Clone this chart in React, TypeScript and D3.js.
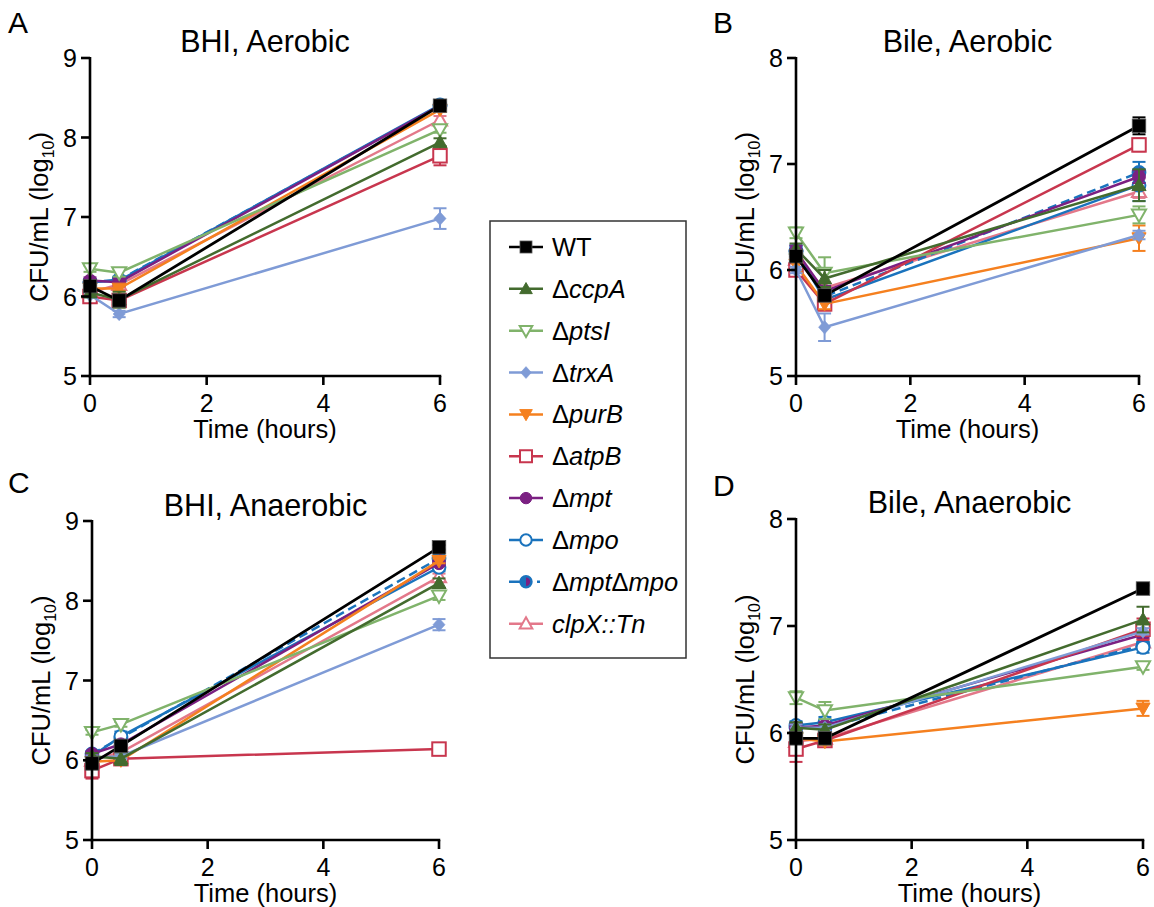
import React from "react";
import * as d3 from "d3";

const times = [0, 0.5, 6];
const strainKeys = ["WT", "ccpA", "ptsI", "trxA", "purB", "atpB", "mpt", "mpo", "mptmpo", "clpX"];
const yTicksBHI = [5, 6, 7, 8, 9];
const yTicksBile = [5, 6, 7, 8];
const xTicks = [0, 2, 4, 6];

// Panel A: BHI, Aerobic
const bhiAerobicMeans = [
  [6.13, 5.95, 8.4], [6.05, 5.96, 7.94], [6.35, 6.3, 8.1], [6.02, 5.78, 6.98], [6.1, 6.1, 8.35],
  [6.0, 5.95, 7.77], [6.2, 6.18, 8.4], [6.18, 6.2, 8.41], [6.18, 6.21, 8.4], [6.05, 6.15, 8.22],
];
const bhiAerobicSem = [
  [0.05, 0.05, 0.03], [0.05, 0.1, 0.05], [0.04, 0.05, 0.04], [0.03, 0.04, 0.13], [0.03, 0.03, 0.03],
  [0.03, 0.05, 0.12], [0.04, 0.05, 0.03], [0.04, 0.04, 0.03], [0.04, 0.04, 0.03], [0.03, 0.05, 0.05],
];
// Panel B: Bile, Aerobic
const bileAerobicMeans = [
  [6.13, 5.76, 7.36], [6.2, 5.92, 6.8], [6.35, 5.97, 6.52], [6.0, 5.46, 6.33], [6.05, 5.68, 6.3],
  [6.0, 5.68, 7.18], [6.18, 5.8, 6.88], [6.18, 5.72, 6.8], [6.18, 5.75, 6.92], [6.1, 5.83, 6.74],
];
const bileAerobicSem = [
  [0.05, 0.05, 0.08], [0.05, 0.08, 0.15], [0.05, 0.15, 0.08], [0.03, 0.13, 0.04], [0.05, 0.05, 0.12],
  [0.04, 0.06, 0.06], [0.05, 0.05, 0.06], [0.05, 0.06, 0.15], [0.05, 0.05, 0.1], [0.05, 0.05, 0.06],
];
// Panel C: BHI, Anaerobic
const bhiAnaerobicMeans = [
  [5.96, 6.18, 8.67], [6.05, 6.02, 8.22], [6.35, 6.45, 8.06], [6.03, 6.05, 7.7], [5.98, 6.0, 8.5],
  [5.87, 6.02, 6.14], [6.08, 6.2, 8.47], [6.05, 6.3, 8.42], [6.08, 6.28, 8.53], [6.0, 6.1, 8.3],
];
const bhiAnaerobicSem = [
  [0.04, 0.04, 0.03], [0.04, 0.08, 0.06], [0.03, 0.03, 0.05], [0.03, 0.03, 0.07], [0.03, 0.03, 0.03],
  [0.1, 0.03, 0.03], [0.03, 0.03, 0.03], [0.03, 0.06, 0.05], [0.03, 0.05, 0.03], [0.03, 0.03, 0.04],
];
// Panel D: Bile, Anaerobic
const bileAnaerobicMeans = [
  [5.95, 5.95, 7.35], [6.05, 6.03, 7.06], [6.33, 6.21, 6.62], [6.05, 6.05, 6.95], [5.95, 5.92, 6.23],
  [5.85, 5.93, 6.97], [6.05, 6.07, 6.92], [6.07, 6.1, 6.8], [6.05, 6.05, 6.82], [5.92, 5.95, 6.85],
];
const bileAnaerobicSem = [
  [0.03, 0.03, 0.03], [0.05, 0.05, 0.12], [0.06, 0.08, 0.03], [0.03, 0.03, 0.03], [0.03, 0.03, 0.07],
  [0.12, 0.03, 0.1], [0.04, 0.03, 0.03], [0.04, 0.05, 0.05], [0.03, 0.03, 0.03], [0.03, 0.03, 0.03],
];

type Style = { color: string; shape: string; hollow: boolean; dashed?: boolean; width: number };
const styles: Record<string, Style> = {
  WT: { color: "#000000", shape: "square", hollow: false, width: 2.8 },
  ccpA: { color: "#436b2e", shape: "triUp", hollow: false, width: 2.5 },
  ptsI: { color: "#80b36b", shape: "triDown", hollow: true, width: 2.5 },
  trxA: { color: "#7f9bd6", shape: "diamond", hollow: false, width: 2.5 },
  purB: { color: "#f5801f", shape: "triDown", hollow: false, width: 2.5 },
  atpB: { color: "#c8364e", shape: "square", hollow: true, width: 2.5 },
  mpt: { color: "#7b2082", shape: "circle", hollow: false, width: 2.5 },
  mpo: { color: "#1a73bd", shape: "circle", hollow: true, width: 2.5 },
  mptmpo: { color: "#1a73bd", shape: "half", hollow: false, dashed: true, width: 2.5 },
  clpX: { color: "#e3788a", shape: "triUp", hollow: true, width: 2.5 },
};

const FONT = "Liberation Sans, Arial, Helvetica, sans-serif";

function Marker({ x, y, st, s }: { x: number; y: number; st: Style; s: number }) {
  const fill = st.hollow ? "#ffffff" : st.color;
  const sw = st.hollow ? 2 : 1;
  const h = s / 2;
  switch (st.shape) {
    case "square":
      return <rect x={x - h} y={y - h} width={s} height={s} fill={fill} stroke={st.hollow ? st.color : "#555"} strokeWidth={st.hollow ? 2 : 0.8} />;
    case "triUp":
      return <path d={`M${x},${y - h * 1.05}L${x + h * 1.05},${y + h * 0.8}L${x - h * 1.05},${y + h * 0.8}Z`} fill={fill} stroke={st.color} strokeWidth={sw} strokeLinejoin="miter" />;
    case "triDown":
      return <path d={`M${x},${y + h * 1.05}L${x + h * 1.05},${y - h * 0.8}L${x - h * 1.05},${y - h * 0.8}Z`} fill={fill} stroke={st.color} strokeWidth={sw} />;
    case "diamond":
      return <path d={`M${x},${y - h}L${x + h * 0.9},${y}L${x},${y + h}L${x - h * 0.9},${y}Z`} fill={fill} stroke={st.color} strokeWidth={0.5} />;
    case "circle":
      return <circle cx={x} cy={y} r={h * 0.95} fill={fill} stroke={st.color} strokeWidth={sw} />;
    case "half": {
      const r = h * 0.95;
      return (
        <g>
          <circle cx={x} cy={y} r={r} fill="#1a73bd" stroke={st.color} strokeWidth={2} />
          <path d={`M${x},${y - r + 1.5}A${r - 1.5},${r - 1.5} 0 0 1 ${x},${y + r - 1.5}Z`} fill="#7b2082" />
        </g>
      );
    }
  }
  return null;
}

type PanelCfg = {
  letter: string; title: string; means: number[][]; sems: number[][]; yTicks: number[];
  x0: number; x1: number; yTop: number; yBottom: number; letterX: number; letterY: number; titleY: number;
};

const panels: PanelCfg[] = [
  { letter: "A", title: "BHI, Aerobic", means: bhiAerobicMeans, sems: bhiAerobicSem, yTicks: yTicksBHI, x0: 90, x1: 440, yTop: 58, yBottom: 376, letterX: 8, letterY: 33, titleY: 52 },
  { letter: "B", title: "Bile, Aerobic", means: bileAerobicMeans, sems: bileAerobicSem, yTicks: yTicksBile, x0: 796, x1: 1139, yTop: 58, yBottom: 376, letterX: 713, letterY: 33, titleY: 52 },
  { letter: "C", title: "BHI, Anaerobic", means: bhiAnaerobicMeans, sems: bhiAnaerobicSem, yTicks: yTicksBHI, x0: 92, x1: 439, yTop: 521, yBottom: 840, letterX: 8, letterY: 493, titleY: 516 },
  { letter: "D", title: "Bile, Anaerobic", means: bileAnaerobicMeans, sems: bileAnaerobicSem, yTicks: yTicksBile, x0: 796, x1: 1143, yTop: 519, yBottom: 840, letterX: 713, letterY: 496, titleY: 513 },
];

function Panel({ cfg }: { cfg: PanelCfg }) {
  const x = d3.scaleLinear().domain([0, 6]).range([cfg.x0, cfg.x1]);
  const y = d3.scaleLinear().domain([d3.min(cfg.yTicks)!, d3.max(cfg.yTicks)!]).range([cfg.yBottom, cfg.yTop]);
  const line = d3.line<number>().x((_, i) => x(times[i])).y((d) => y(d));
  const order = strainKeys.map((_, i) => i).reverse();
  const cx = (cfg.x0 + cfg.x1) / 2;
  const cy = (cfg.yTop + cfg.yBottom) / 2;
  const labelX = cfg.x0 - 51;
  return (
    <g>
      <text x={cfg.letterX} y={cfg.letterY} fontSize={30} fontFamily={FONT}>{cfg.letter}</text>
      <text x={cx} y={cfg.titleY} fontSize={30.5} fontFamily={FONT} textAnchor="middle">{cfg.title}</text>
      {order.map((si) => {
        const st = styles[strainKeys[si]];
        const vals = cfg.means[si];
        const errs = cfg.sems[si];
        return (
          <g key={si}>
            <path d={line(vals)!} fill="none" stroke={st.color} strokeWidth={st.width} strokeDasharray={st.dashed ? "9,5" : undefined} />
            {vals.map((v, i) => {
              const px = x(times[i]);
              const e = errs[i];
              return (
                <g key={i} stroke={st.color} strokeWidth={2}>
                  <line x1={px} x2={px} y1={y(v - e)} y2={y(v + e)} />
                  <line x1={px - 6.5} x2={px + 6.5} y1={y(v - e)} y2={y(v - e)} />
                  <line x1={px - 6.5} x2={px + 6.5} y1={y(v + e)} y2={y(v + e)} />
                </g>
              );
            })}
            {vals.map((v, i) => (
              <Marker key={"m" + i} x={x(times[i])} y={y(v)} st={st} s={13.5} />
            ))}
          </g>
        );
      })}
      {/* axes */}
      <line x1={cfg.x0} x2={cfg.x0} y1={cfg.yTop - 1} y2={cfg.yBottom + 1.25} stroke="#000" strokeWidth={2.6} />
      <line x1={cfg.x0 - 1.25} x2={cfg.x1 + 1.25} y1={cfg.yBottom} y2={cfg.yBottom} stroke="#000" strokeWidth={2.6} />
      {cfg.yTicks.map((t) => (
        <g key={"yt" + t}>
          <line x1={cfg.x0 - 9} x2={cfg.x0} y1={y(t)} y2={y(t)} stroke="#000" strokeWidth={2.6} />
          <text x={cfg.x0 - 13} y={y(t)} dy="0.36em" fontSize={25} fontFamily={FONT} textAnchor="end">{t}</text>
        </g>
      ))}
      {xTicks.map((t) => (
        <g key={"xt" + t}>
          <line x1={x(t)} x2={x(t)} y1={cfg.yBottom} y2={cfg.yBottom + 9} stroke="#000" strokeWidth={2.6} />
          <text x={x(t)} y={cfg.yBottom + 36} fontSize={25} fontFamily={FONT} textAnchor="middle">{t}</text>
        </g>
      ))}
      <text x={cx} y={cfg.yBottom + 62} fontSize={25.5} fontFamily={FONT} textAnchor="middle">Time (hours)</text>
      <text transform={`translate(${labelX + 9},${cy}) rotate(-90)`} fontSize={25.5} fontFamily={FONT} textAnchor="middle">
        CFU/mL (log<tspan fontSize={16} dy={6}>10</tspan><tspan dy={-6}>)</tspan>
      </text>
    </g>
  );
}

const legendLabels: { delta: boolean; parts: string[] }[] = [
  { delta: false, parts: ["WT"] },
  { delta: true, parts: ["ccpA"] },
  { delta: true, parts: ["ptsI"] },
  { delta: true, parts: ["trxA"] },
  { delta: true, parts: ["purB"] },
  { delta: true, parts: ["atpB"] },
  { delta: true, parts: ["mpt"] },
  { delta: true, parts: ["mpo"] },
  { delta: true, parts: ["mpt", "mpo"] },
  { delta: false, parts: ["clpX::Tn"] },
];

function Legend() {
  const left = 490, top = 221, w = 196, h = 437;
  const rowY = (i: number) => 247 + i * 41.85;
  return (
    <g>
      <rect x={left} y={top} width={w} height={h} fill="#fff" stroke="#333" strokeWidth={1.5} />
      {strainKeys.map((k, i) => {
        const st = styles[k];
        const yy = rowY(i);
        return (
          <g key={k}>
            <line x1={509} x2={543} y1={yy} y2={yy} stroke={st.color} strokeWidth={2.5} strokeDasharray={st.dashed ? "22,6,3,20" : undefined} />
            <Marker x={526} y={yy} st={st} s={12} />
            <text x={552} y={yy + 9} fontSize={25.5} fontFamily={FONT}>
              {k === "WT" ? (
                "WT"
              ) : legendLabels[i].delta ? (
                legendLabels[i].parts.map((p, j) => (
                  <React.Fragment key={j}>
                    <tspan>Δ</tspan>
                    <tspan fontStyle="italic">{p}</tspan>
                  </React.Fragment>
                ))
              ) : (
                <tspan fontStyle="italic">{legendLabels[i].parts[0]}</tspan>
              )}
            </text>
          </g>
        );
      })}
    </g>
  );
}

export default function App() {
  return (
    <svg width={1154} height={907} style={{ position: "absolute", left: 0, top: 0, background: "#fff" }}>
      <rect x={0} y={0} width={1154} height={907} fill="#fff" />
      {panels.map((p) => (
        <Panel key={p.letter} cfg={p} />
      ))}
      <Legend />
    </svg>
  );
}
